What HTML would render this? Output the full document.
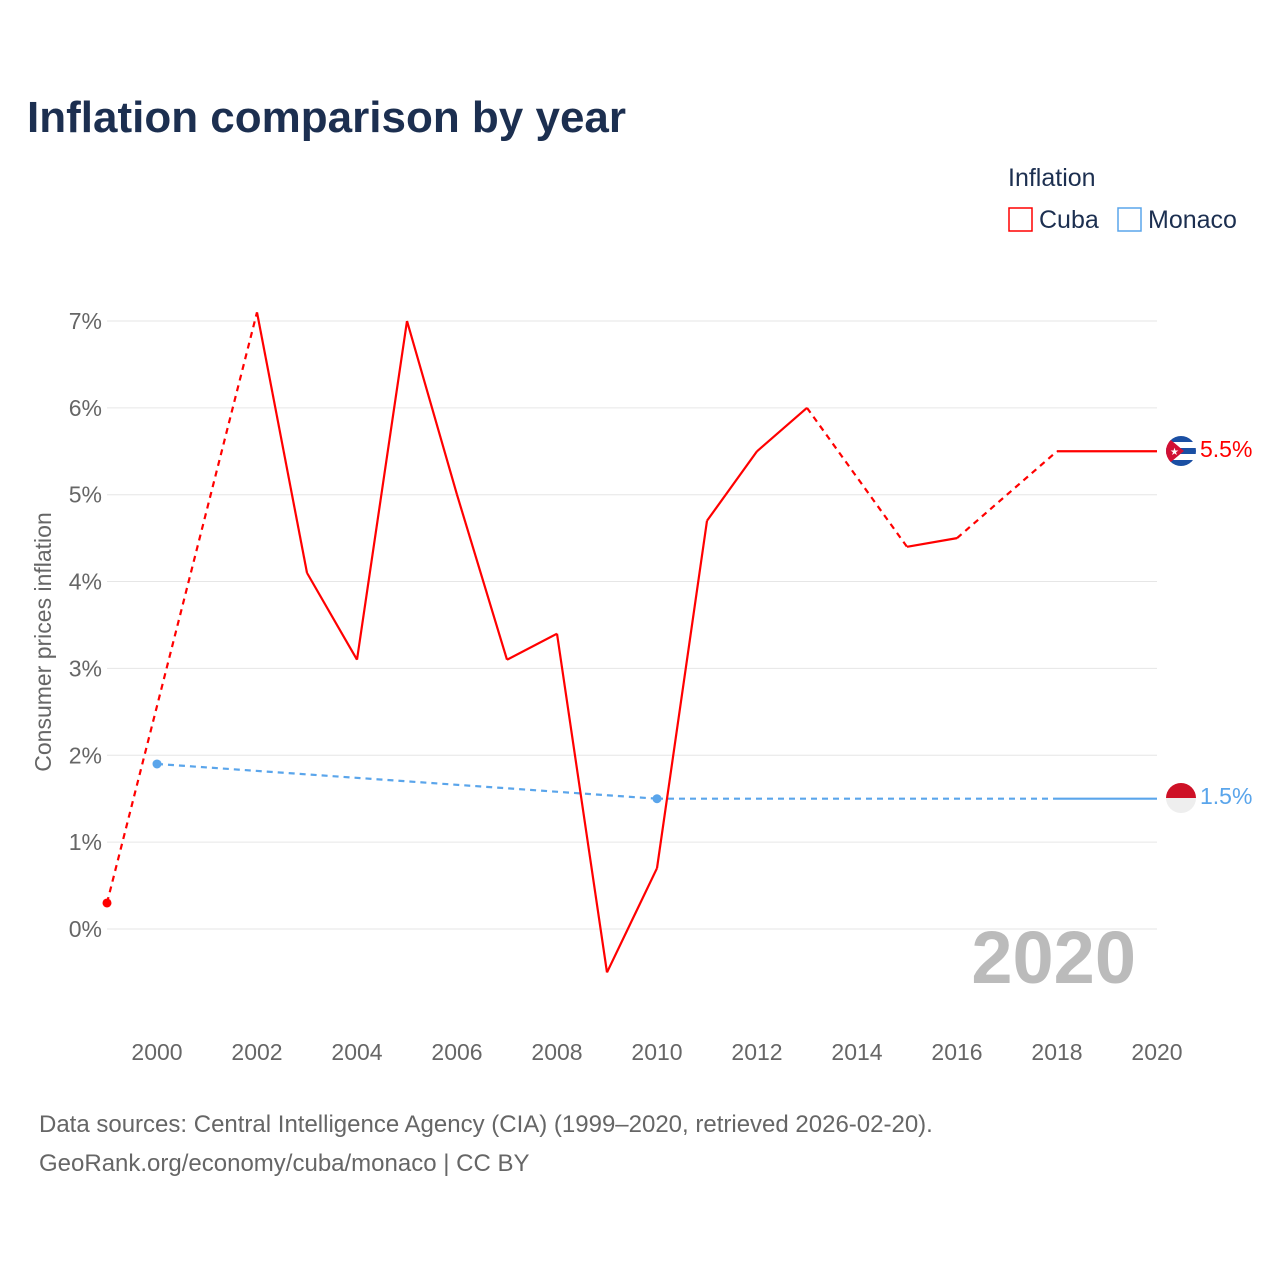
<!DOCTYPE html>
<html><head><meta charset="utf-8"><style>
body{margin:0;background:#fff;font-family:"Liberation Sans",sans-serif}
svg text{font-family:"Liberation Sans",sans-serif}
</style></head><body>
<svg width="1280" height="1280" viewBox="0 0 1280 1280">
<text x="27" y="132" font-size="44" font-weight="bold" fill="#1c2f50">Inflation comparison by year</text>
<text x="1008" y="186" font-size="25" fill="#1c2f50">Inflation</text>
<g><rect x="1009" y="208" width="23" height="23" fill="none" stroke="#f00" stroke-width="1.5"/><text x="1039" y="228" font-size="25" fill="#1c2f50">Cuba</text></g>
<g><rect x="1118" y="208" width="23" height="23" fill="none" stroke="#5aa5eb" stroke-width="1.5"/><text x="1148" y="228" font-size="25" fill="#1c2f50">Monaco</text></g>
<g id="grid"></g>
<g id="xt"></g>
<text transform="translate(51,642) rotate(-90)" text-anchor="middle" font-size="23" fill="#666">Consumer prices inflation</text>
<text x="1136" y="983" text-anchor="end" font-size="74" font-weight="bold" fill="#bbb">2020</text>
<g id="series"></g>
<g>
<clipPath id="c1"><circle cx="1181" cy="451" r="15"/></clipPath>
<g clip-path="url(#c1)"><rect x="1166" y="436" width="30" height="30" fill="#fff"/><rect x="1166" y="436" width="30" height="6" fill="#1a4fa3"/><rect x="1166" y="448" width="30" height="6" fill="#1a4fa3"/><rect x="1166" y="460" width="30" height="6" fill="#1a4fa3"/><polygon points="1166,436 1184,451 1166,466" fill="#d21034"/><text x="1170" y="455" font-size="10" fill="#fff">★</text></g></g>
<g>
<clipPath id="c2"><circle cx="1181" cy="798" r="15"/></clipPath>
<g clip-path="url(#c2)"><rect x="1166" y="783" width="30" height="15" fill="#ce1126"/><rect x="1166" y="798" width="30" height="15" fill="#eee"/></g></g>
<text x="1200" y="457" font-size="23" fill="#f00">5.5%</text>
<text x="1200" y="804" font-size="23" fill="#5aa5eb">1.5%</text>
<text x="39" y="1132" font-size="24" fill="#666">Data sources: Central Intelligence Agency (CIA) (1999–2020, retrieved 2026-02-20).</text>
<text x="39" y="1171" font-size="24" fill="#666">GeoRank.org/economy/cuba/monaco | CC BY</text>
</svg>
<script>
const years=[1999,2000,2001,2002,2003,2004,2005,2006,2007,2008,2009,2010,2011,2012,2013,2014,2015,2016,2017,2018,2019,2020];
const cuba=[0.3,null,null,7.1,4.1,3.1,7.0,5.0,3.1,3.4,-0.5,0.7,4.7,5.5,6.0,null,4.4,4.5,null,5.5,5.5,5.5];
const monaco=[null,1.9,null,null,null,null,null,null,null,null,null,1.5,null,null,null,null,null,null,null,1.5,1.5,1.5];
const yTicks=[0,1,2,3,4,5,6,7];
const xTicks=[2000,2002,2004,2006,2008,2010,2012,2014,2016,2018,2020];
const X=y=>157+(y-2000)*50, Y=v=>929-v*86.86;
const NS="http://www.w3.org/2000/svg";
function mk(t,a,p){const e=document.createElementNS(NS,t);for(const k in a)e.setAttribute(k,a[k]);p.appendChild(e);return e;}
const g=document.getElementById('grid');
yTicks.forEach(v=>{const l=mk('line',{x1:107,x2:1157,y1:Y(v),y2:Y(v),stroke:'#e6e6e6'},g);


const t=mk('text',{x:102,y:Y(v)+8,'text-anchor':'end','font-size':23,fill:'#666'},g);t.textContent=v+'%';

});
const xt=document.getElementById('xt');
xTicks.forEach(v=>{const t=mk('text',{x:X(v),y:1060,'text-anchor':'middle','font-size':23,fill:'#666'},xt);t.textContent=v;

});
const s=document.getElementById('series');
function draw(vals,col,name){
 const pts=[];vals.forEach((v,i)=>{if(v!==null)pts.push([years[i],v,i]);});
 for(let k=1;k<pts.length;k++){const a=pts[k-1],b=pts[k];const gap=b[2]-a[2]>1;
  const l=mk('line',{x1:X(a[0]),y1:Y(a[1]),x2:X(b[0]),y2:Y(b[1]),stroke:col,'stroke-width':2.2},s);
  if(gap)l.setAttribute('stroke-dasharray','6,5');
  
  }
 pts.forEach((p,k)=>{const i=p[2];const prev=i>0&&vals[i-1]!==null,next=i<vals.length-1&&vals[i+1]!==null;
  if(!prev&&!next){const c=mk('circle',{cx:X(p[0]),cy:Y(p[1]),r:4.5,fill:col},s);
  
  }});
}
draw(monaco,'#5aa5eb','monaco');
draw(cuba,'#f00','cuba');
</script>
</body></html>
